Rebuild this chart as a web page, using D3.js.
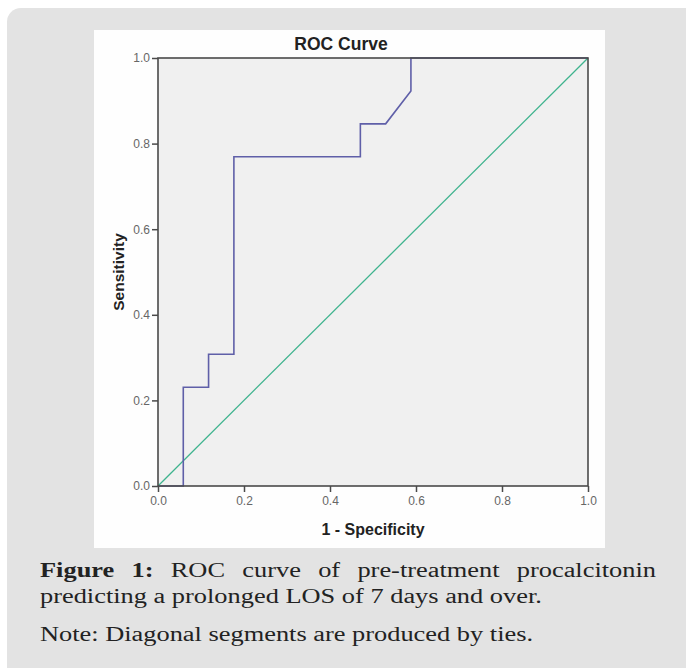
<!DOCTYPE html>
<html><head><meta charset="utf-8">
<script src="https://cdn.jsdelivr.net/npm/d3@7"></script>
<style>html,body{margin:0;padding:0;background:#fff;}svg{display:block;}</style>
</head><body>
<svg id="c" width="686" height="668"></svg>
<script>
// ROC curve points (1 - specificity, sensitivity)
const fpr = [0, 0.0588, 0.0588, 0.1176, 0.1176, 0.1765, 0.1765, 0.4706, 0.4706, 0.5294, 0.5882, 0.5882, 1.0];
const tpr = [0, 0, 0.2308, 0.2308, 0.3077, 0.3077, 0.7692, 0.7692, 0.8462, 0.8462, 0.9231, 1.0, 1.0];
const refX = [0, 1];
const refY = [0, 1];
const tickVals = [0, 0.2, 0.4, 0.6, 0.8, 1.0];
const tickLabels = ["0.0", "0.2", "0.4", "0.6", "0.8", "1.0"];
const title = "ROC Curve";
const xLabel = "1 - Specificity";
const yLabel = "Sensitivity";
const captionBold = "Figure 1:";
const captionLine1 = "ROC curve of pre-treatment procalcitonin";
const captionLine2 = "predicting a prolonged LOS of 7 days and over.";
const captionLine3 = "Note: Diagonal segments are produced by ties.";

const svg = d3.select("#c");
// outer grey rounded box
svg.append("rect").attr("x", 7).attr("y", 8).attr("width", 700).attr("height", 680)
  .attr("rx", 14).attr("fill", "#e3e3e3");
// white panel
svg.append("rect").attr("x", 94).attr("y", 30).attr("width", 511).attr("height", 518).attr("fill", "#fefefe");

const L = 158, R = 588, T = 58, B = 486;
const x = d3.scaleLinear().domain([0, 1]).range([L, R]);
const y = d3.scaleLinear().domain([0, 1]).range([B, T]);

// plot background
svg.append("rect").attr("x", L).attr("y", T).attr("width", R - L).attr("height", B - T).attr("fill", "#f0f0f0");

const line = d3.line().x(d => x(d[0])).y(d => y(d[1]));
// reference diagonal
svg.append("path").datum(refX.map((v, i) => [v, refY[i]])).attr("d", line)
  .attr("fill", "none").attr("stroke", "#3fb38e").attr("stroke-width", 1.3);
// ROC curve
svg.append("path").datum(fpr.map((v, i) => [v, tpr[i]])).attr("d", line)
  .attr("fill", "none").attr("stroke", "#5f5fa8").attr("stroke-width", 1.6);

// frame
svg.append("rect").attr("x", L).attr("y", T).attr("width", R - L).attr("height", B - T)
  .attr("fill", "none").attr("stroke", "#4a4a4a").attr("stroke-width", 1.6);

// axes
const sans = "Arial, 'Liberation Sans', sans-serif";
const xAxis = d3.axisBottom(x).tickValues(tickVals).tickFormat((d, i) => tickLabels[i]).tickSize(6).tickPadding(4);
const gx = svg.append("g").attr("transform", `translate(0,${B})`).call(xAxis);
const yAxis = d3.axisLeft(y).tickValues(tickVals).tickFormat((d, i) => tickLabels[i]).tickSize(6).tickPadding(2);
const gy = svg.append("g").attr("transform", `translate(${L},0)`).call(yAxis);
[gx, gy].forEach(g => {
  g.select(".domain").remove();
  g.selectAll(".tick line").attr("stroke", "#4a4a4a").attr("stroke-width", 1.5);
  g.selectAll(".tick text").attr("fill", "#666").style("font-family", sans).style("font-size", "12px");
});

// title & labels
svg.append("text").attr("x", 341).attr("y", 50).attr("text-anchor", "middle")
  .style("font-family", sans).style("font-weight", "bold").style("font-size", "17.5px")
  .attr("fill", "#222").text(title);
svg.append("text").attr("x", (L + R) / 2).attr("y", 535).attr("text-anchor", "middle")
  .style("font-family", sans).style("font-weight", "bold").style("font-size", "16px")
  .attr("fill", "#222").text(xLabel);
svg.append("text").attr("transform", `translate(124,${(T + B) / 2}) rotate(-90)`).attr("text-anchor", "middle")
  .style("font-family", sans).style("font-weight", "bold").style("font-size", "15.5px")
  .attr("fill", "#222").text(yLabel);

// caption (serif, stretched horizontally to the reference width; line 1 justified)
const capFont = "'Liberation Serif', 'Times New Roman', serif";
const capSize = 20;
const capLeft = 40, capRight = 656, line2Width = 502;
const cap = svg.append("g");
const l2 = cap.append("text").attr("y", 603).style("font-family", capFont).style("font-size", capSize + "px")
  .attr("fill", "#222").text(captionLine2);
const sx = line2Width / l2.node().getComputedTextLength();
cap.attr("transform", `translate(${capLeft},0) scale(${sx},1)`);
cap.append("text").attr("y", 641).style("font-family", capFont).style("font-size", capSize + "px")
  .attr("fill", "#222").text(captionLine3);
// justified line 1
const words1 = captionBold.split(" ").map(t => ({t, b: true})).concat(captionLine1.split(" ").map(t => ({t, b: false})));
const wNodes = words1.map(w => cap.append("text").attr("y", 577).style("font-family", capFont)
  .style("font-size", capSize + "px").style("font-weight", w.b ? "bold" : "normal").attr("fill", "#222").text(w.t));
const widths = wNodes.map(n => n.node().getComputedTextLength());
const avail = (capRight - capLeft) / sx;
const gap = (avail - d3.sum(widths)) / (words1.length - 1);
let cx = 0;
wNodes.forEach((n, i) => { n.attr("x", cx); cx += widths[i] + gap; });
</script>
</body></html>
